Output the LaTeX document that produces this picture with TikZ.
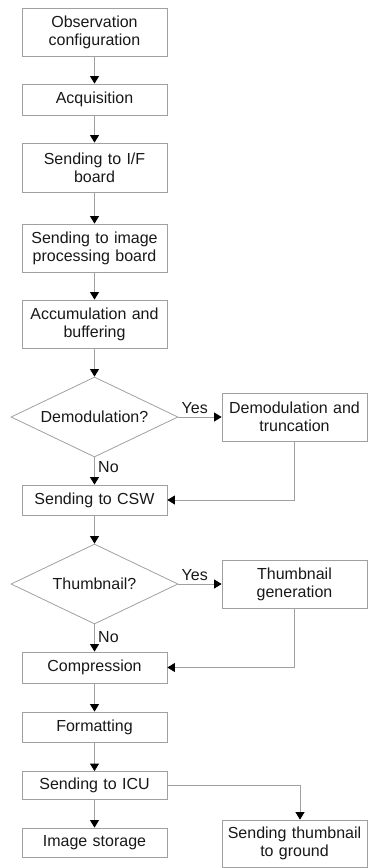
\documentclass[tikz,border=0pt]{standalone}
\usepackage{fontspec}
\setmainfont{Liberation Sans}
\usetikzlibrary{shapes.geometric,arrows.meta}
\definecolor{linegray}{HTML}{A0A0A0}
\definecolor{txt}{HTML}{181818}
\begin{document}
\begin{tikzpicture}[x=1pt,y=-1pt,
  every node/.style={text=txt},
  box/.style={draw=linegray, line width=0.8pt, minimum width=145pt, text width=142pt,
    align=center, inner sep=0pt, font=\fontsize{16}{17.8}\selectfont},
  dec/.style={draw=linegray, line width=0.8pt, diamond, aspect=2.09, minimum width=167pt,
    minimum height=80pt, inner sep=0pt, font=\fontsize{16}{17.8}\selectfont},
  lbl/.style={inner sep=0pt, anchor=base west, font=\fontsize{16}{17.8}\selectfont},
  conn/.style={draw=linegray, line width=0.8pt,
    -{Triangle[width=9pt,length=7.5pt,color=black]}}]
\useasboundingbox (0,0) rectangle (369,868);

\node[box, minimum height=48pt] (obs) at (94.5,32) {Observation\\configuration};
\node[box, minimum height=31pt] (acq) at (94.5,99.5) {Acquisition};
\node[box, minimum height=49pt] (if) at (94.5,167.5) {Sending to I/F\\board};
\node[box, minimum height=48pt] (ipb) at (94.5,248) {Sending to image\\processing board};
\node[box, minimum height=48pt] (acc) at (94.5,324) {Accumulation and\\buffering};
\node[dec] (dem) at (94.5,417) {Demodulation?};
\node[box, minimum height=48pt] (demt) at (294.5,417) {Demodulation and\\truncation};
\node[box, minimum height=30pt] (csw) at (94.5,500) {Sending to CSW};
\node[dec] (thq) at (94.5,584) {Thumbnail?};
\node[box, minimum height=48pt] (thg) at (294.5,584) {Thumbnail\\generation};
\node[box, minimum height=31pt] (cmp) at (94.5,667.5) {Compression};
\node[box, minimum height=30pt] (fmt) at (94.5,727) {Formatting};
\node[box, minimum height=28pt] (icu) at (94.5,785.5) {Sending to ICU};
\node[box, minimum height=29pt] (sto) at (94.5,842.5) {Image storage};
\node[box, minimum height=47pt] (gnd) at (294.5,843.5) {Sending thumbnail\\to ground};

\node[lbl] (y1) at (181.5,413) {Yes};
\node[lbl] (n1) at (98,472) {No};
\node[lbl] (y2) at (181.5,580) {Yes};
\node[lbl] (n2) at (98,642) {No};

\draw[conn] (obs) -- (acq);
\draw[conn] (acq) -- (if);
\draw[conn] (if) -- (ipb);
\draw[conn] (ipb) -- (acc);
\draw[conn] (acc) -- (dem);
\draw[conn] (dem) -- (demt);
\draw[conn] (dem) -- (csw);
\draw[conn] (demt.south) |- (csw.east);
\draw[conn] (csw) -- (thq);
\draw[conn] (thq) -- (thg);
\draw[conn] (thq) -- (cmp);
\draw[conn] (thg.south) |- (cmp.east);
\draw[conn] (cmp) -- (fmt);
\draw[conn] (fmt) -- (icu);
\draw[conn] (icu) -- (sto);
\draw[conn] (icu.east) -| ([xshift=5.5pt]gnd.north);
\end{tikzpicture}
\end{document}
